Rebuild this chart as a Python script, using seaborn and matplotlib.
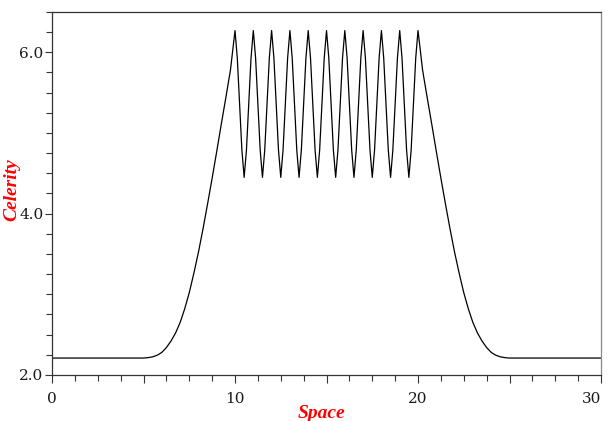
import numpy as np
import pandas as pd
import seaborn as sns
import matplotlib.pyplot as plt
from matplotlib.ticker import MultipleLocator

# values
ramp_x = [0.0, 5.0, 5.25, 5.5, 5.75, 6.0, 6.25, 6.5, 6.75, 7.0, 7.25, 7.5,
          7.75, 8.0, 8.25, 8.5, 8.75, 9.0, 9.25, 9.5, 9.75]
ramp_y = [2.21, 2.21, 2.215, 2.225, 2.245, 2.28, 2.34, 2.42, 2.52, 2.65, 2.82, 3.02,
          3.26, 3.52, 3.81, 4.12, 4.44, 4.77, 5.11, 5.44, 5.78]

# one period of the wiggle between x=10 and x=20 (peak -> trough -> peak)
wave_dx = [0.0, 0.125, 0.25, 0.375, 0.5, 0.625, 0.75, 0.875]
wave_y = [6.27, 5.93, 5.36, 4.79, 4.45, 4.79, 5.36, 5.93]
n_waves = 10
wave_start = 10.0

fall_x = [20.25, 20.5, 20.75, 21.0, 21.25, 21.5, 21.75, 22.0, 22.25, 22.5, 22.75,
          23.0, 23.25, 23.5, 23.75, 24.0, 24.25, 24.5, 24.75, 25.0, 30.0]
fall_y = [5.78, 5.44, 5.11, 4.77, 4.44, 4.12, 3.81, 3.52, 3.26, 3.02, 2.82,
          2.65, 2.52, 2.42, 2.34, 2.28, 2.245, 2.225, 2.215, 2.21, 2.21]

x_labels = ['0', '', '10', '', '20', '', '30']
y_ticks = [2.0, 4.0, 6.0]
y_labels = ['2.0', '4.0', '6.0']

wx, wy = [], []
for k in range(n_waves):
    wx += [wave_start + k + d for d in wave_dx]
    wy += wave_y
wx.append(wave_start + n_waves)
wy.append(wave_y[0])

df = pd.DataFrame({'space': ramp_x + wx + fall_x,
                   'celerity': ramp_y + wy + fall_y})

sns.set_style('ticks')
plt.rcParams['font.family'] = ['DejaVu Serif']

fig = plt.figure(figsize=(6.09, 4.21), dpi=100)
ax = fig.add_axes([0.0854, 0.1093, 0.9015, 0.8622])

sns.lineplot(data=df, x='space', y='celerity', color='black', linewidth=0.9,
             sort=False, ax=ax)

ax.set_xlim(0, 30)
ax.set_ylim(2.0, 6.5)

ax.set_xticks(np.arange(0, 31, 5))
ax.set_xticklabels(x_labels)
ax.xaxis.set_minor_locator(MultipleLocator(1.25))
ax.set_yticks(y_ticks)
ax.set_yticklabels(y_labels)
ax.yaxis.set_minor_locator(MultipleLocator(0.25))

ax.tick_params(axis='both', which='major', labelsize=11, colors='#333333',
               labelcolor='#1a1a1a', width=0.8)
ax.tick_params(axis='x', which='major', length=6, pad=6)
ax.tick_params(axis='y', which='major', length=5, pad=1)
ax.tick_params(axis='both', which='minor', length=4, width=0.8, colors='#333333')
# keep the last x label inside the canvas
ax.get_xticklabels()[-1].set_horizontalalignment('right')
ax.get_xticklabels()[-1].set_x(30.3)

for side in ['left', 'bottom', 'top']:
    ax.spines[side].set_color('#333333')
    ax.spines[side].set_linewidth(0.9)
ax.spines['right'].set_color('#888888')
ax.spines['right'].set_linewidth(0.9)

lab_font = dict(family='Liberation Serif', color='red', fontsize=14,
                fontweight='bold', fontstyle='italic')
ax.set_xlabel('Space', **lab_font)
ax.set_ylabel('Celerity', **lab_font)
ax.xaxis.set_label_coords(0.491, -0.082)
ax.yaxis.set_label_coords(-0.058, 0.51)

plt.savefig('out.png', dpi=100)
